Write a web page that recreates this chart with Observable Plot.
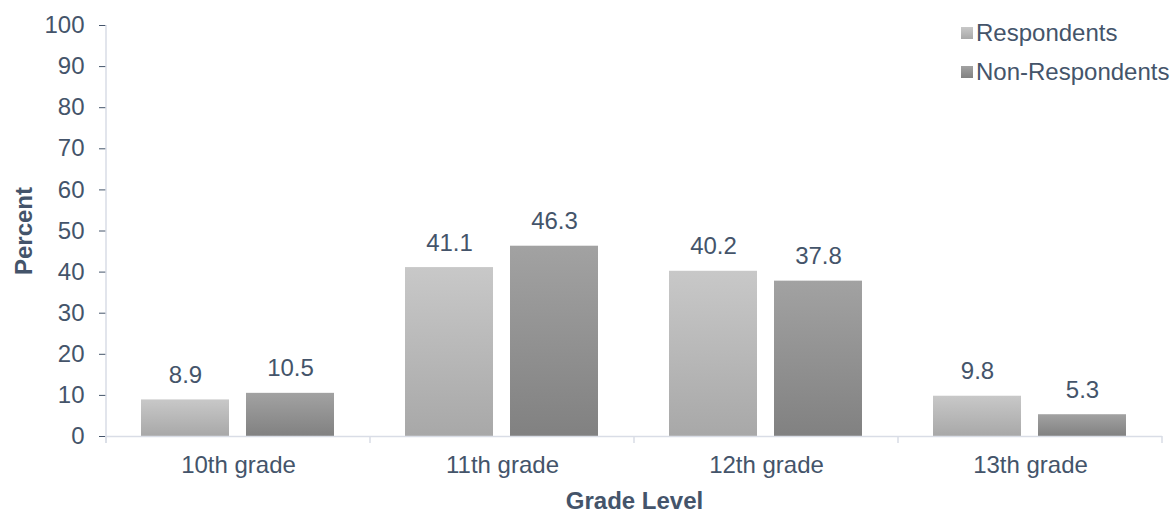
<!DOCTYPE html>
<html>
<head>
<meta charset="utf-8">
<script src="https://cdn.jsdelivr.net/npm/d3@7"></script>
<script src="https://cdn.jsdelivr.net/npm/@observablehq/plot@0.6"></script>
<style>
  html, body { margin: 0; padding: 0; background: #fff; }
  #wrap { position: relative; width: 1174px; height: 512px; font-family: "Liberation Sans", Arial, sans-serif; color: #44546a; }
  #legend { position: absolute; left: 961px; top: 13px; font-size: 24px; line-height: 39px; }
  #legend .row { display: flex; align-items: center; white-space: nowrap; }
  #legend .sw { width: 12px; height: 12px; margin-right: 3px; }
  svg [aria-label="y-axis label"], svg [aria-label="fx-axis label"] { font-weight: bold; }
</style>
</head>
<body>
<div id="wrap">
  <div id="chart"></div>
  <div id="legend"></div>
</div>
<script>
const grades = ["10th grade", "11th grade", "12th grade", "13th grade"];
const series = ["Respondents", "Non-Respondents"];
const respondents = [8.9, 41.1, 40.2, 9.8];
const nonRespondents = [10.5, 46.3, 37.8, 5.3];
const yTicks = [0, 10, 20, 30, 40, 50, 60, 70, 80, 90, 100];
const gradColors = {
  "Respondents": ["#c8c8c8", "#a8a8a8"],
  "Non-Respondents": ["#a2a2a2", "#818181"]
};
const gradIds = ["gradR", "gradN"];

const data = [];
grades.forEach((g, i) => {
  data.push({grade: g, series: series[0], value: respondents[i]});
  data.push({grade: g, series: series[1], value: nonRespondents[i]});
});

const textColor = "#44546a";
const axisColor = "#d9dde6";

const chart = Plot.plot({
  width: 1174,
  height: 512,
  marginTop: 25,
  marginRight: 11,
  marginBottom: 76,
  marginLeft: 105,
  style: {fontFamily: "'Liberation Sans', Arial, sans-serif", fontSize: "24px", color: textColor, background: "#fff"},
  fx: {domain: grades, padding: 0, axis: "bottom", tickSize: 0, tickPadding: 19, label: "Grade Level", labelAnchor: "center", labelOffset: 72},
  x: {domain: series, paddingInner: 0.16, paddingOuter: 0.33, axis: null},
  y: {domain: [0, 100], ticks: yTicks, tickSize: 7, tickPadding: 15, label: "Percent", labelAnchor: "center", labelOffset: 92, labelArrow: "none"},
  color: {domain: series, range: gradIds.map(id => `url(#${id})`)},
  marks: [
    Plot.barY(data, {fx: "grade", x: "series", y: "value", fill: "series"}),
    Plot.ruleY([0], {stroke: axisColor, strokeWidth: 1.5}),
    Plot.text(data, {fx: "grade", x: "series", y: "value", text: d => d.value.toFixed(1), lineAnchor: "bottom", dy: -17, fill: textColor, fontSize: 24})
  ]
});

const svg = d3.select(chart);
const defs = svg.insert("defs", ":first-child");
series.forEach((s, i) => {
  const lg = defs.append("linearGradient").attr("id", gradIds[i]).attr("x1", 0).attr("y1", 0).attr("x2", 0).attr("y2", 1);
  lg.append("stop").attr("offset", "0%").attr("stop-color", gradColors[s][0]);
  lg.append("stop").attr("offset", "100%").attr("stop-color", gradColors[s][1]);
});

svg.selectAll('[aria-label="y-axis tick"]').attr("stroke", axisColor);

// axis lines and boundary ticks using the plot's scales
const fx = chart.scale("fx");
const y = chart.scale("y");
const y0 = y.apply(0), y1 = y.apply(100);
const left = fx.apply(grades[0]);
const g = svg.append("g").attr("stroke", axisColor).attr("stroke-width", 1.5);
g.append("line").attr("x1", left).attr("x2", left).attr("y1", y1).attr("y2", y0 + 7);
const bounds = grades.map(d => fx.apply(d)).concat([fx.apply(grades[grades.length - 1]) + fx.bandwidth]);
bounds.forEach(b => {
  g.append("line").attr("x1", b).attr("x2", b).attr("y1", y0).attr("y2", y0 + 7);
});

document.getElementById("chart").appendChild(chart);

// legend
const legend = d3.select("#legend");
series.forEach(s => {
  const row = legend.append("div").attr("class", "row");
  row.append("div").attr("class", "sw").style("background", `linear-gradient(${gradColors[s][0]}, ${gradColors[s][1]})`);
  row.append("span").text(s);
});
</script>
</body>
</html>
